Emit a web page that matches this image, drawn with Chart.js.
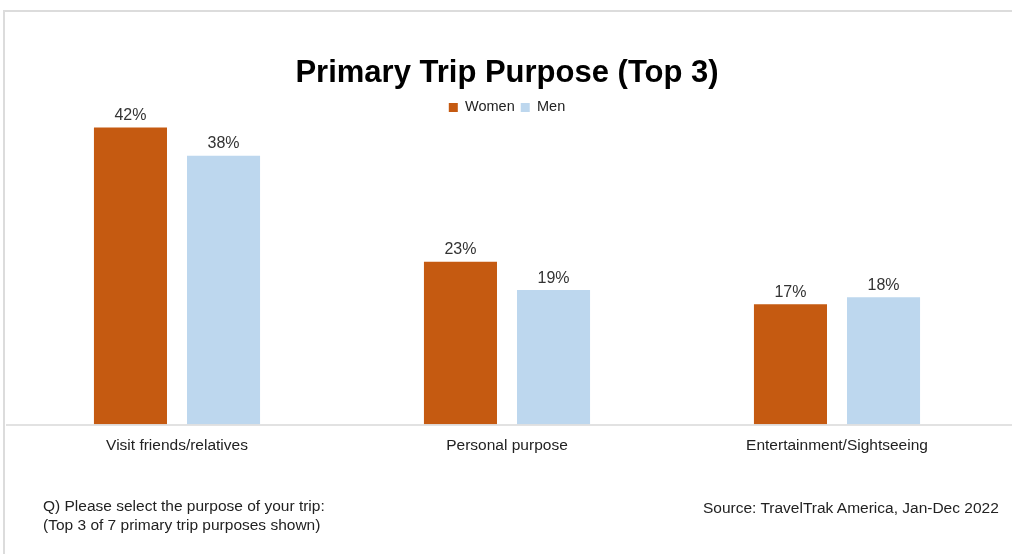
<!DOCTYPE html>
<html>
<head>
<meta charset="utf-8">
<script src="https://cdn.jsdelivr.net/npm/chart.js@4/dist/chart.umd.min.js"></script>
<style>
  html, body { margin: 0; padding: 0; background: #fff; overflow: hidden; }
  body { width: 1012px; height: 554px; position: relative; font-family: "Liberation Sans", Arial, sans-serif; }
  #frame { position: absolute; left: 3px; top: 10px; width: 1100px; height: 700px; border-left: 2px solid #dcdcdc; border-top: 2px solid #dcdcdc; }
  #wrap { position: absolute; left: 0; top: 0; width: 1012px; height: 554px; }
  .note { position: absolute; font-size: 15.5px; color: #222; line-height: 19px; }
</style>
</head>
<body>
<div id="frame"></div>
<div id="wrap"><canvas id="chart"></canvas></div>
<div class="note" style="left:43px; top:496px;">Q) Please select the purpose of your trip:<br>(Top 3 of 7 primary trip purposes shown)</div>
<div class="note" style="left:703px; top:498px;">Source: TravelTrak America, Jan-Dec 2022</div>
<script>
// Data
const categories = ["Visit friends/relatives", "Personal purpose", "Entertainment/Sightseeing"];
const women = [42, 23, 17];
const men = [38, 19, 18];

const womenColor = "#C55A11";
const menColor = "#BDD7EE";

// Value labels above the bars
const valueLabels = {
  id: "valueLabels",
  afterDatasetsDraw(chart) {
    const ctx = chart.ctx;
    ctx.save();
    ctx.font = "16px 'Liberation Sans', Arial, sans-serif";
    ctx.fillStyle = "#333";
    ctx.textAlign = "center";
    ctx.textBaseline = "bottom";
    chart.data.datasets.forEach((ds, i) => {
      chart.getDatasetMeta(i).data.forEach((bar, j) => {
        ctx.fillText(ds.data[j] + "%", bar.x, bar.y - 4);
      });
    });
    ctx.restore();
  }
};

// Baseline that runs past the plot area, like the original
const baseline = {
  id: "baseline",
  afterDatasetsDraw(chart) {
    const ctx = chart.ctx;
    const y = chart.scales.y.getPixelForValue(0);
    ctx.save();
    ctx.strokeStyle = "#d9d9d9";
    ctx.lineWidth = 1.5;
    ctx.beginPath();
    ctx.moveTo(6, y + 0.5);
    ctx.lineTo(chart.width, y + 0.5);
    ctx.stroke();
    ctx.restore();
  }
};

new Chart(document.getElementById("chart"), {
  type: "bar",
  data: {
    labels: categories,
    datasets: [
      { label: "Women", data: women, backgroundColor: womenColor },
      { label: "Men", data: men, backgroundColor: menColor }
    ]
  },
  options: {
    responsive: true,
    maintainAspectRatio: false,
    animation: false,
    layout: { padding: { left: 12, right: 10, top: 55, bottom: 95 } },
    datasets: { bar: { categoryPercentage: 0.564, barPercentage: 0.785 } },
    scales: {
      x: {
        grid: { display: false },
        border: { display: false },
        ticks: { color: "#222", font: { size: 15.5, family: "'Liberation Sans', Arial, sans-serif" }, padding: 4 }
      },
      y: {
        display: false,
        min: 0,
        max: 42.4
      }
    },
    plugins: {
      title: {
        display: true,
        text: "Primary Trip Purpose (Top 3)",
        color: "#000",
        font: { size: 31, weight: "bold", family: "'Liberation Sans', Arial, sans-serif" },
        padding: { top: 0, bottom: 2 }
      },
      legend: {
        display: true,
        labels: {
          boxWidth: 9,
          boxHeight: 9,
          color: "#222",
          padding: 6,
          font: { size: 14.5, family: "'Liberation Sans', Arial, sans-serif" }
        }
      },
      tooltip: { enabled: false }
    }
  },
  plugins: [valueLabels, baseline]
});
</script>
</body>
</html>
